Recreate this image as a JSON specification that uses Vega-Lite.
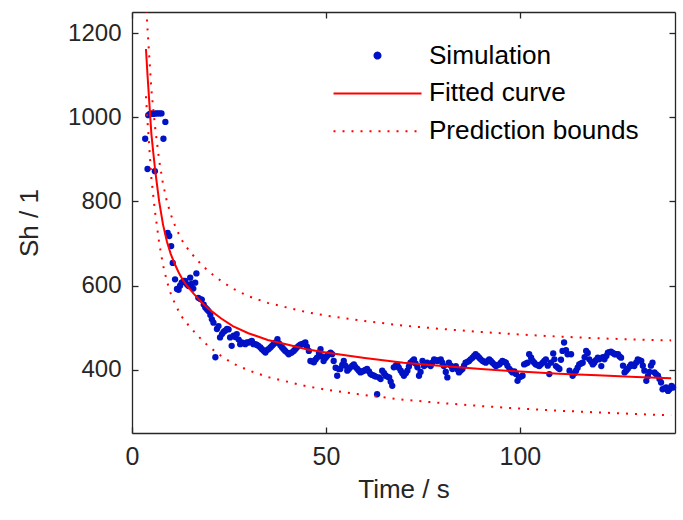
{
  "$schema": "https://vega.github.io/schema/vega-lite/v6.json",
  "autosize": "none",
  "width": 543,
  "height": 421,
  "padding": {"left": 132, "top": 12, "right": 8, "bottom": 87},
  "background": "white",
  "config": {"view": {"stroke": null}, "font": "Liberation Sans"},
  "datasets": {
    "sim": [
      {"t":3.4,"sh":949},{"t":4.0,"sh":877},{"t":4.2,"sh":1005},{"t":4.6,"sh":1008},{"t":5.1,"sh":1009},{"t":5.6,"sh":1008},{"t":5.9,"sh":872},{"t":6.1,"sh":1009},{"t":6.6,"sh":1009},{"t":7.1,"sh":1009},{"t":7.6,"sh":1009},{"t":8.1,"sh":949},{"t":8.6,"sh":989},
      {"t":9.2,"sh":725},{"t":9.6,"sh":718},{"t":10.1,"sh":694},{"t":10.5,"sh":654},{"t":11.1,"sh":615},{"t":11.6,"sh":592},{"t":12.0,"sh":590},{"t":12.4,"sh":600},{"t":12.8,"sh":607},{"t":13.3,"sh":611},{"t":13.7,"sh":611},{"t":14.2,"sh":603},{"t":14.6,"sh":599},{"t":15.0,"sh":619},{"t":15.4,"sh":605},{"t":15.8,"sh":593},{"t":16.3,"sh":607},{"t":16.6,"sh":629},{"t":17.1,"sh":571},{"t":17.6,"sh":568},{"t":18.0,"sh":567},{"t":18.5,"sh":555},{"t":18.9,"sh":548},{"t":19.3,"sh":544},{"t":19.7,"sh":540},{"t":20.2,"sh":530},{"t":20.6,"sh":520},{"t":21.0,"sh":512},{"t":21.5,"sh":430},{"t":21.9,"sh":497},{"t":22.3,"sh":504},{"t":22.7,"sh":477},{"t":23.2,"sh":485},{"t":23.6,"sh":490},{"t":24.0,"sh":493},{"t":24.5,"sh":497},{"t":24.9,"sh":496},{"t":25.3,"sh":477},{"t":25.7,"sh":457},{"t":26.2,"sh":481},{"t":26.6,"sh":478},{"t":27.0,"sh":485},{"t":27.5,"sh":472},{"t":27.9,"sh":461},{"t":28.3,"sh":465},{"t":28.8,"sh":463},{"t":29.2,"sh":461},{"t":29.6,"sh":465},
      {"t":30.1,"sh":465},{"t":30.5,"sh":467},{"t":30.9,"sh":469},{"t":31.3,"sh":461},{"t":31.8,"sh":461},{"t":32.2,"sh":459},{"t":32.6,"sh":457},{"t":33.1,"sh":453},{"t":33.5,"sh":449},{"t":34.0,"sh":445},{"t":34.4,"sh":441},{"t":34.8,"sh":447},{"t":35.2,"sh":449},{"t":35.7,"sh":453},{"t":36.1,"sh":457},{"t":36.5,"sh":461},{"t":37.0,"sh":465},{"t":37.5,"sh":473},{"t":37.9,"sh":463},{"t":38.3,"sh":458},{"t":38.7,"sh":453},{"t":39.1,"sh":449},{"t":39.5,"sh":445},{"t":40.0,"sh":441},{"t":40.4,"sh":437},{"t":40.8,"sh":440},{"t":41.2,"sh":441},{"t":41.7,"sh":445},{"t":42.1,"sh":449},{"t":42.5,"sh":453},{"t":43.0,"sh":457},{"t":43.4,"sh":460},{"t":43.8,"sh":461},{"t":44.3,"sh":463},{"t":44.7,"sh":465},{"t":45.1,"sh":455},{"t":45.6,"sh":445},{"t":46.0,"sh":421},{"t":46.5,"sh":420},{"t":46.9,"sh":418},{"t":47.3,"sh":424},{"t":47.7,"sh":429},{"t":48.2,"sh":440},{"t":48.6,"sh":449},{"t":49.0,"sh":432},{"t":49.4,"sh":421},{"t":49.9,"sh":428},
      {"t":50.3,"sh":433},{"t":50.7,"sh":437},{"t":51.2,"sh":441},{"t":51.6,"sh":437},{"t":52.0,"sh":421},{"t":52.5,"sh":405},{"t":52.9,"sh":386},{"t":53.3,"sh":402},{"t":53.7,"sh":402},{"t":54.2,"sh":412},{"t":54.6,"sh":421},{"t":55.0,"sh":410},{"t":55.5,"sh":398},{"t":55.9,"sh":402},{"t":56.3,"sh":406},{"t":56.8,"sh":410},{"t":57.2,"sh":413},{"t":57.6,"sh":407},{"t":58.1,"sh":402},{"t":58.5,"sh":398},{"t":58.9,"sh":394},{"t":59.4,"sh":396},{"t":59.8,"sh":398},{"t":60.2,"sh":400},{"t":60.6,"sh":402},{"t":61.1,"sh":396},{"t":61.5,"sh":390},{"t":61.9,"sh":388},{"t":62.4,"sh":386},{"t":62.8,"sh":384},{"t":63.2,"sh":342},{"t":63.7,"sh":382},{"t":64.1,"sh":378},{"t":64.5,"sh":398},{"t":65.0,"sh":392},{"t":65.4,"sh":386},{"t":65.8,"sh":384},{"t":66.3,"sh":382},{"t":66.7,"sh":372},{"t":67.1,"sh":362},{"t":67.5,"sh":406},{"t":68.0,"sh":410},{"t":68.4,"sh":413},{"t":68.8,"sh":405},{"t":69.3,"sh":398},{"t":69.7,"sh":392},
      {"t":70.1,"sh":386},{"t":70.6,"sh":392},{"t":71.0,"sh":398},{"t":71.4,"sh":408},{"t":71.8,"sh":417},{"t":72.3,"sh":421},{"t":72.7,"sh":425},{"t":73.1,"sh":415},{"t":73.6,"sh":406},{"t":74.0,"sh":386},{"t":74.4,"sh":395},{"t":74.9,"sh":421},{"t":75.3,"sh":409},{"t":75.7,"sh":413},{"t":76.1,"sh":417},{"t":76.6,"sh":413},{"t":77.0,"sh":409},{"t":77.4,"sh":417},{"t":77.9,"sh":425},{"t":78.3,"sh":423},{"t":78.7,"sh":421},{"t":79.2,"sh":423},{"t":79.6,"sh":425},{"t":80.0,"sh":417},{"t":80.4,"sh":409},{"t":80.9,"sh":395},{"t":81.3,"sh":382},{"t":81.7,"sh":417},{"t":82.2,"sh":410},{"t":82.6,"sh":402},{"t":83.0,"sh":405},{"t":83.5,"sh":409},{"t":83.9,"sh":401},{"t":84.3,"sh":394},{"t":84.7,"sh":398},{"t":85.2,"sh":402},{"t":85.6,"sh":410},{"t":86.0,"sh":417},{"t":86.5,"sh":419},{"t":86.9,"sh":421},{"t":87.3,"sh":425},{"t":87.8,"sh":429},{"t":88.2,"sh":433},{"t":88.6,"sh":437},{"t":89.1,"sh":433},{"t":89.5,"sh":429},{"t":89.9,"sh":425},
      {"t":90.4,"sh":421},{"t":90.8,"sh":419},{"t":91.2,"sh":417},{"t":91.7,"sh":421},{"t":92.1,"sh":425},{"t":92.5,"sh":421},{"t":92.9,"sh":417},{"t":93.4,"sh":413},{"t":93.8,"sh":409},{"t":94.2,"sh":411},{"t":94.7,"sh":413},{"t":95.1,"sh":417},{"t":95.5,"sh":421},{"t":96.0,"sh":419},{"t":96.4,"sh":417},{"t":96.8,"sh":410},{"t":97.3,"sh":402},{"t":97.7,"sh":398},{"t":98.1,"sh":394},{"t":98.6,"sh":396},{"t":99.0,"sh":390},{"t":99.4,"sh":374},{"t":99.8,"sh":382},{"t":100.3,"sh":384},{"t":100.7,"sh":386},{"t":101.1,"sh":413},{"t":101.6,"sh":415},{"t":102.0,"sh":417},{"t":102.4,"sh":437},{"t":102.9,"sh":429},{"t":103.3,"sh":421},{"t":103.7,"sh":417},{"t":104.1,"sh":413},{"t":104.6,"sh":411},{"t":105.0,"sh":409},{"t":105.4,"sh":413},{"t":105.9,"sh":417},{"t":106.3,"sh":421},{"t":106.7,"sh":425},{"t":107.2,"sh":410},{"t":107.6,"sh":390},{"t":108.0,"sh":417},{"t":108.6,"sh":439},{"t":108.9,"sh":425},{"t":109.3,"sh":409},{"t":109.8,"sh":405},
      {"t":110.2,"sh":402},{"t":110.6,"sh":424},{"t":111.0,"sh":445},{"t":111.4,"sh":465},{"t":111.9,"sh":447},{"t":112.3,"sh":437},{"t":112.8,"sh":398},{"t":113.2,"sh":437},{"t":113.6,"sh":386},{"t":114.1,"sh":392},{"t":114.5,"sh":398},{"t":114.9,"sh":405},{"t":115.3,"sh":413},{"t":115.8,"sh":415},{"t":116.2,"sh":417},{"t":116.7,"sh":430},{"t":117.1,"sh":445},{"t":117.5,"sh":440},{"t":117.9,"sh":425},{"t":118.4,"sh":419},{"t":118.8,"sh":413},{"t":119.2,"sh":417},{"t":119.6,"sh":423},{"t":120.1,"sh":429},{"t":120.5,"sh":425},{"t":121.0,"sh":409},{"t":121.4,"sh":430},{"t":121.8,"sh":425},{"t":122.3,"sh":433},{"t":122.7,"sh":441},{"t":123.1,"sh":442},{"t":123.5,"sh":443},{"t":124.0,"sh":440},{"t":124.4,"sh":437},{"t":124.8,"sh":437},{"t":125.3,"sh":437},{"t":125.7,"sh":432},{"t":126.1,"sh":429},{"t":126.6,"sh":410},{"t":127.0,"sh":394},{"t":127.4,"sh":398},{"t":127.8,"sh":402},{"t":128.3,"sh":408},{"t":128.7,"sh":413},{"t":129.1,"sh":411},{"t":129.5,"sh":409},
      {"t":130.0,"sh":417},{"t":130.4,"sh":425},{"t":130.8,"sh":423},{"t":131.3,"sh":421},{"t":131.7,"sh":410},{"t":132.1,"sh":398},{"t":132.6,"sh":374},{"t":133.0,"sh":385},{"t":133.4,"sh":395},{"t":133.8,"sh":410},{"t":134.2,"sh":417},{"t":134.7,"sh":394},{"t":135.1,"sh":390},{"t":135.6,"sh":386},{"t":136.0,"sh":378},{"t":136.4,"sh":370},{"t":136.8,"sh":354},{"t":137.3,"sh":356},{"t":137.7,"sh":358},{"t":138.2,"sh":350},{"t":138.6,"sh":354},{"t":139.1,"sh":362},{"t":139.5,"sh":358}
    ],
    "fit": [
      {"t":3.6,"sh":1162},{"t":4,"sh":1100},{"t":4.5,"sh":1030},{"t":5,"sh":960},{"t":5.5,"sh":915},{"t":6,"sh":872},{"t":7,"sh":800},{"t":8,"sh":745},{"t":9,"sh":705},{"t":10,"sh":675},{"t":11,"sh":652},{"t":12,"sh":632},{"t":13,"sh":615},{"t":14,"sh":602},{"t":16,"sh":580},{"t":18,"sh":560},{"t":20,"sh":543},{"t":23,"sh":522},{"t":26,"sh":504},{"t":30,"sh":487},{"t":35,"sh":471},{"t":40,"sh":460},{"t":45,"sh":449},{"t":50,"sh":441},{"t":60,"sh":428},{"t":70,"sh":417},{"t":80,"sh":409},{"t":90,"sh":402},{"t":100,"sh":396},{"t":110,"sh":391},{"t":120,"sh":387},{"t":130,"sh":383},{"t":139,"sh":380}
    ],
    "bounds": [
      {"t":3.6,"sh":1275,"bound":"upper"},{"t":4,"sh":1210,"bound":"upper"},{"t":4.5,"sh":1137,"bound":"upper"},{"t":5,"sh":1065,"bound":"upper"},{"t":5.5,"sh":1018,"bound":"upper"},{"t":6,"sh":973,"bound":"upper"},{"t":7,"sh":898,"bound":"upper"},{"t":8,"sh":841,"bound":"upper"},{"t":9,"sh":800,"bound":"upper"},{"t":10,"sh":769,"bound":"upper"},{"t":11,"sh":745,"bound":"upper"},{"t":12,"sh":724,"bound":"upper"},{"t":13,"sh":706,"bound":"upper"},{"t":14,"sh":692,"bound":"upper"},{"t":16,"sh":669,"bound":"upper"},{"t":18,"sh":649,"bound":"upper"},{"t":20,"sh":632,"bound":"upper"},{"t":23,"sh":611,"bound":"upper"},{"t":26,"sh":593,"bound":"upper"},{"t":30,"sh":575,"bound":"upper"},{"t":35,"sh":559,"bound":"upper"},{"t":40,"sh":548,"bound":"upper"},{"t":45,"sh":537,"bound":"upper"},{"t":50,"sh":529,"bound":"upper"},{"t":60,"sh":516,"bound":"upper"},{"t":70,"sh":505,"bound":"upper"},{"t":80,"sh":497,"bound":"upper"},{"t":90,"sh":490,"bound":"upper"},{"t":100,"sh":484,"bound":"upper"},{"t":110,"sh":479,"bound":"upper"},{"t":120,"sh":475,"bound":"upper"},{"t":130,"sh":472,"bound":"upper"},{"t":139,"sh":470,"bound":"upper"},
      {"t":3.6,"sh":1050,"bound":"lower"},{"t":4,"sh":990,"bound":"lower"},{"t":4.5,"sh":923,"bound":"lower"},{"t":5,"sh":855,"bound":"lower"},{"t":5.5,"sh":812,"bound":"lower"},{"t":6,"sh":771,"bound":"lower"},{"t":7,"sh":702,"bound":"lower"},{"t":8,"sh":649,"bound":"lower"},{"t":9,"sh":610,"bound":"lower"},{"t":10,"sh":581,"bound":"lower"},{"t":11,"sh":559,"bound":"lower"},{"t":12,"sh":540,"bound":"lower"},{"t":13,"sh":524,"bound":"lower"},{"t":14,"sh":512,"bound":"lower"},{"t":16,"sh":491,"bound":"lower"},{"t":18,"sh":471,"bound":"lower"},{"t":20,"sh":454,"bound":"lower"},{"t":23,"sh":433,"bound":"lower"},{"t":26,"sh":415,"bound":"lower"},{"t":30,"sh":399,"bound":"lower"},{"t":35,"sh":383,"bound":"lower"},{"t":40,"sh":372,"bound":"lower"},{"t":45,"sh":361,"bound":"lower"},{"t":50,"sh":353,"bound":"lower"},{"t":60,"sh":340,"bound":"lower"},{"t":70,"sh":329,"bound":"lower"},{"t":80,"sh":321,"bound":"lower"},{"t":90,"sh":314,"bound":"lower"},{"t":100,"sh":308,"bound":"lower"},{"t":110,"sh":303,"bound":"lower"},{"t":120,"sh":299,"bound":"lower"},{"t":130,"sh":295,"bound":"lower"},{"t":139,"sh":292,"bound":"lower"}
    ]
  },
  "resolve": {"axis": {"x": "independent", "y": "independent"}},
  "layer": [
    {
      "data": {"name": "sim"},
      "mark": {"type": "point", "filled": true, "size": 40, "opacity": 1},
      "encoding": {
        "x": {"field": "t", "type": "quantitative",
          "scale": {"domain": [0, 140], "nice": false, "zero": false},
          "axis": {"orient": "bottom", "values": [0, 50, 100], "format": "d", "labelFlush": false, "title": "Time / s", "grid": false,
            "tickSize": -6, "labelPadding": 17, "tickColor": "#262626", "tickWidth": 1.3,
            "domainColor": "#262626", "domainWidth": 1.3,
            "labelFont": "Liberation Sans", "labelFontSize": 25, "labelColor": "#262626",
            "titleFont": "Liberation Sans", "titleFontSize": 26, "titleFontWeight": "normal", "titleColor": "#262626", "titlePadding": 7}},
        "y": {"field": "sh", "type": "quantitative",
          "scale": {"domain": [250, 1250], "nice": false, "zero": false},
          "axis": {"orient": "left", "values": [400, 600, 800, 1000, 1200], "format": "d", "labelFlush": false, "title": "Sh / 1", "grid": false,
            "tickSize": -6, "labelPadding": 17, "tickColor": "#262626", "tickWidth": 1.3,
            "domainColor": "#262626", "domainWidth": 1.3,
            "labelFont": "Liberation Sans", "labelFontSize": 24, "labelColor": "#262626",
            "titleFont": "Liberation Sans", "titleFontSize": 26, "titleFontWeight": "normal", "titleColor": "#262626", "titlePadding": 25}},
        "color": {"datum": "Simulation",
          "scale": {"domain": ["Simulation", "Fitted curve", "Prediction bounds"], "range": ["#0012c6", "#ff0000", "#ff0000"]},
          "legend": {
            "title": null, "orient": "none", "legendX": 232.4, "legendY": 30.5, "padding": 0,
            "symbolSize": 400, "symbolStrokeWidth": 2, "labelOffset": 38.3, "rowPadding": 10.8,
            "labelFont": "Liberation Sans", "labelFontSize": 26.2, "labelColor": "#000000", "labelLimit": 400,
            "symbolOpacity": 1,
            "encode": {"symbols": {"update": {
              "shape": {"signal": "datum.value === 'Simulation' ? 'circle' : 'M-4.4,0H4.4'"},
              "size": {"signal": "datum.value === 'Simulation' ? 36 : 400"},
              "fill": {"signal": "datum.value === 'Simulation' ? '#0012c6' : 'transparent'"},
              "stroke": {"signal": "datum.value === 'Simulation' ? 'transparent' : '#ff0000'"},
              "strokeDash": {"signal": "datum.value === 'Prediction bounds' ? [2, 7] : [1, 0]"},
              "strokeWidth": {"value": 2}
            }}}
          }}
      }
    },
    {
      "data": {"name": "fit"},
      "mark": {"type": "line", "strokeWidth": 2, "clip": true},
      "encoding": {
        "x": {"field": "t", "type": "quantitative",
          "axis": {"orient": "top", "values": [0, 50, 100], "labels": false, "title": null, "grid": false,
            "tickSize": -6, "tickColor": "#262626", "tickWidth": 1.3, "domainColor": "#262626", "domainWidth": 1.3}},
        "y": {"field": "sh", "type": "quantitative",
          "axis": {"orient": "right", "values": [400, 600, 800, 1000, 1200], "labels": false, "title": null, "grid": false,
            "tickSize": -6, "tickColor": "#262626", "tickWidth": 1.3, "domainColor": "#262626", "domainWidth": 1.3}},
        "color": {"datum": "Fitted curve"}
      }
    },
    {
      "data": {"name": "bounds"},
      "mark": {"type": "line", "strokeWidth": 2, "strokeDash": [2, 7], "clip": true},
      "encoding": {
        "x": {"field": "t", "type": "quantitative", "axis": null},
        "y": {"field": "sh", "type": "quantitative", "axis": null},
        "detail": {"field": "bound"},
        "color": {"datum": "Prediction bounds"}
      }
    }
  ]
}
